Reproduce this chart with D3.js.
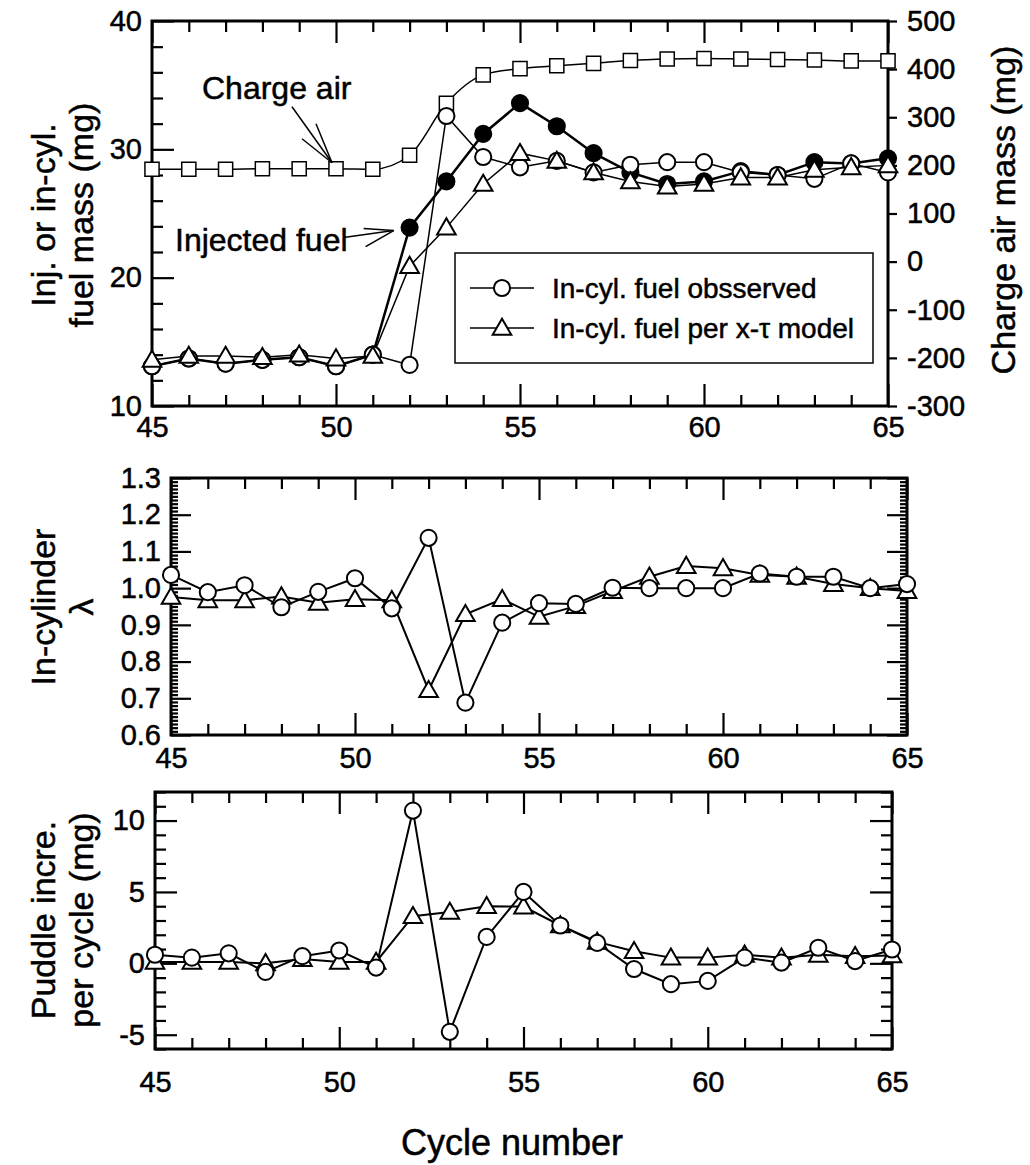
<!DOCTYPE html>
<html>
<head>
<meta charset="utf-8">
<script src="https://cdn.jsdelivr.net/npm/d3@7"></script>
<style>
  body { margin: 0; background: #fff; }
  text { font-family: "Liberation Sans", Arial, sans-serif; fill: #000; stroke: #000; stroke-width: 0.5px; }
</style>
</head>
<body>
<svg id="chart" width="1030" height="1165"></svg>
<script>
// cycle numbers shared by all three panels
const cycles = [45, 46, 47, 48, 49, 50, 51, 52, 53, 54, 55, 56, 57, 58, 59, 60, 61, 62, 63, 64, 65];

// top panel: fuel masses (mg, left axis) and charge air (mg, right axis)
const injectedFuel = [13.1, 13.7, 13.3, 13.6, 13.8, 13.1, 14.0, 23.9, 27.5, 31.2, 33.6, 31.8, 29.7, 28.2, 27.3, 27.5, 28.3, 28.0, 29.0, 28.9, 29.3];
const fuelObserved = [13.1, 13.7, 13.3, 13.6, 13.8, 13.1, 14.0, 13.2, 32.6, 29.4, 28.6, 29.1, 28.2, 28.8, 29.0, 29.0, 28.2, 28.0, 27.7, 28.9, 28.2];
const fuelModel = [13.6, 13.9, 13.9, 13.8, 14.0, 13.7, 13.9, 20.9, 23.9, 27.3, 29.7, 29.1, 28.2, 27.5, 27.1, 27.3, 27.8, 27.8, 28.4, 28.6, 28.75];
const chargeAir = [192, 192, 192, 193, 193, 193, 192, 221, 329, 388, 401, 407, 412, 418, 421, 422, 421, 420, 419, 417, 417];

// middle panel: in-cylinder lambda
const lambdaObserved = [1.036, 0.989, 1.008, 0.948, 0.99, 1.027, 0.945, 1.137, 0.688, 0.906, 0.959, 0.957, 1.001, 1.0, 1.0, 1.0, 1.04, 1.031, 1.031, 1.0, 1.011];
const lambdaModel = [0.976, 0.967, 0.967, 0.977, 0.96, 0.97, 0.967, 0.722, 0.929, 0.97, 0.922, 0.951, 0.992, 1.031, 1.06, 1.054, 1.036, 1.031, 1.011, 1.0, 0.992];

// bottom panel: puddle increment per cycle (mg)
const puddleObserved = [0.6, 0.4, 0.7, -0.6, 0.5, 0.9, -0.3, 10.7, -4.8, 1.85, 5.0, 2.65, 1.43, -0.4, -1.46, -1.23, 0.4, 0.05, 1.09, 0.16, 0.97];
const puddleModel = [0.1, 0.1, 0.1, 0.0, 0.3, 0.1, 0.1, 3.3, 3.6, 4.0, 3.98, 2.65, 1.5, 0.85, 0.4, 0.4, 0.6, 0.4, 0.6, 0.5, 0.55];

// tick labels
const xTicks = [45, 50, 55, 60, 65];
const fuelTicks = [10, 20, 30, 40];
const airTicks = [-300, -200, -100, 0, 100, 200, 300, 400, 500];
const lambdaTicks = [0.6, 0.7, 0.8, 0.9, 1.0, 1.1, 1.2, 1.3];
const puddleTicks = [-5, 0, 5, 10];

const legendLabels = ["In-cyl. fuel obsserved", "In-cyl. fuel per x-\u03c4 model"];

const svg = d3.select("#chart");
const FONT = "Liberation Sans, Arial, sans-serif";
// plain hyphen for negatives, like the original figure
const intFmt = d => String(d);
const oneDec = d => d.toFixed(1);

function zip(ys) { return cycles.map((c, i) => ({x: c, y: ys[i]})); }

function makePanel(box, yDomain) {
    const x = d3.scaleLinear().domain([45, 65]).range([box.left, box.right]);
    const y = d3.scaleLinear().domain(yDomain).range([box.bottom, box.top]);
    return {box, x, y, g: svg.append("g")};
}

function styleAxis(sel, size) {
    sel.select(".domain").remove();
    sel.selectAll(".tick line").attr("stroke", "#000").attr("stroke-width", 2.2);
    sel.selectAll("text").style("font-family", FONT).style("font-size", size + "px").attr("fill", "#000");
}

function xAxes(p, labelPad) {
    const minor = cycles.filter(c => xTicks.indexOf(c) < 0);
    const b = p.box;
    p.g.append("g").attr("transform", `translate(0,${b.bottom})`)
        .call(d3.axisBottom(p.x).tickValues(xTicks).tickSize(-22).tickPadding(labelPad).tickFormat(intFmt))
        .call(s => styleAxis(s, 29));
    p.g.append("g").attr("transform", `translate(0,${b.bottom})`)
        .call(d3.axisBottom(p.x).tickValues(minor).tickSize(-11).tickFormat(""))
        .call(s => styleAxis(s, 29));
    p.g.append("g").attr("transform", `translate(0,${b.top})`)
        .call(d3.axisTop(p.x).tickValues(xTicks).tickSize(-22).tickFormat(""))
        .call(s => styleAxis(s, 29));
    p.g.append("g").attr("transform", `translate(0,${b.top})`)
        .call(d3.axisTop(p.x).tickValues(minor).tickSize(-11).tickFormat(""))
        .call(s => styleAxis(s, 29));
}

function yAxes(p, majors, minors, fmt, majLen, minLen, bothSides) {
    const b = p.box;
    p.g.append("g").attr("transform", `translate(${b.left},0)`)
        .call(d3.axisLeft(p.y).tickValues(majors).tickSize(-majLen).tickPadding(10).tickFormat(fmt))
        .call(s => styleAxis(s, 29));
    p.g.append("g").attr("transform", `translate(${b.left},0)`)
        .call(d3.axisLeft(p.y).tickValues(minors).tickSize(-minLen).tickFormat(""))
        .call(s => styleAxis(s, 29));
    if (bothSides) {
        p.g.append("g").attr("transform", `translate(${b.right},0)`)
            .call(d3.axisRight(p.y).tickValues(majors).tickSize(-majLen).tickFormat(""))
            .call(s => styleAxis(s, 29));
        p.g.append("g").attr("transform", `translate(${b.right},0)`)
            .call(d3.axisRight(p.y).tickValues(minors).tickSize(-minLen).tickFormat(""))
            .call(s => styleAxis(s, 29));
    }
}

function frame(p) {
    const b = p.box;
    p.g.append("rect").attr("x", b.left).attr("y", b.top)
        .attr("width", b.right - b.left).attr("height", b.bottom - b.top)
        .attr("fill", "none").attr("stroke", "#000").attr("stroke-width", 3);
}

function drawLine(p, yScale, data, width, curve) {
    const line = d3.line().x(d => p.x(d.x)).y(d => yScale(d.y)).curve(curve || d3.curveLinear);
    p.g.append("path").datum(data).attr("d", line)
        .attr("fill", "none").attr("stroke", "#000").attr("stroke-width", width);
}

function drawMarkers(p, yScale, data, kind, fill) {
    const shape = {circle: d3.symbolCircle, square: d3.symbolSquare, triangle: d3.symbolTriangle}[kind];
    const size = {circle: 205, square: 200, triangle: 150}[kind];
    p.g.append("g").selectAll("path").data(data).join("path")
        .attr("d", d3.symbol().type(shape).size(size))
        .attr("transform", d => `translate(${p.x(d.x)},${yScale(d.y) + (kind === "triangle" ? 1.5 : 0)})`)
        .attr("fill", fill).attr("stroke", "#000").attr("stroke-width", kind === "square" ? 1.5 : 2);
}

function rotatedText(x, y, str, size) {
    svg.append("text").attr("transform", `translate(${x},${y}) rotate(-90)`)
        .attr("text-anchor", "middle").style("font-size", size + "px").text(str);
}

function arrow(tip, tail, barbA, barbB) {
    const g = svg.append("g").attr("stroke", "#000").attr("stroke-width", 1.5).attr("fill", "none");
    [tail, barbA, barbB].forEach(pt => {
        g.append("line").attr("x1", pt[0]).attr("y1", pt[1]).attr("x2", tip[0]).attr("y2", tip[1]);
    });
}

// ---------- top panel ----------
const topP = makePanel({left: 152, right: 888, top: 21, bottom: 406}, [10, 40]);
const yAir = d3.scaleLinear().domain([-300, 500]).range([406, 21]);
xAxes(topP, 10);
yAxes(topP, fuelTicks, d3.range(12, 40, 2).filter(v => v % 10 !== 0), intFmt, 22, 11, false);
topP.g.append("g").attr("transform", `translate(${topP.box.right},0)`)
    .call(d3.axisRight(yAir).tickValues(airTicks).tickSize(9).tickPadding(10).tickFormat(intFmt))
    .call(s => styleAxis(s, 29));
frame(topP);

drawLine(topP, yAir, zip(chargeAir), 1.5, d3.curveMonotoneX);
drawMarkers(topP, yAir, zip(chargeAir), "square", "#fff");
drawLine(topP, topP.y, zip(fuelModel), 1.5);
drawLine(topP, topP.y, zip(fuelObserved), 1.5);
drawLine(topP, topP.y, zip(injectedFuel), 2.5);
drawMarkers(topP, topP.y, zip(injectedFuel), "circle", "#000");
drawMarkers(topP, topP.y, zip(fuelObserved), "circle", "#fff");
drawMarkers(topP, topP.y, zip(fuelModel), "triangle", "#fff");

// legend
const lg = topP.g.append("g");
lg.append("rect").attr("x", 455).attr("y", 253).attr("width", 418).attr("height", 110)
    .attr("fill", "#fff").attr("stroke", "#000").attr("stroke-width", 1.5);
legendLabels.forEach((lab, i) => {
    const cy = 288 + i * 40;
    lg.append("line").attr("x1", 470).attr("x2", 534).attr("y1", cy).attr("y2", cy)
        .attr("stroke", "#000").attr("stroke-width", 1.5);
    lg.append("path").attr("d", d3.symbol().type(i === 0 ? d3.symbolCircle : d3.symbolTriangle).size(i === 0 ? 205 : 150))
        .attr("transform", `translate(502,${cy + (i === 0 ? 0 : 1.5)})`)
        .attr("fill", "#fff").attr("stroke", "#000").attr("stroke-width", 2);
    lg.append("text").attr("x", 552).attr("y", cy + 10).style("font-size", "28px").text(lab);
});

// annotations
svg.append("text").attr("x", 202).attr("y", 99).style("font-size", "32px").text("Charge air");
{
    const tx = topP.x(50) - 4, ty = yAir(chargeAir[5]) - 6;
    arrow([tx, ty], [tx - 40, ty - 56], [tx - 30, ty - 24], [tx - 16, ty - 39]);
}
svg.append("text").attr("x", 175).attr("y", 251).style("font-size", "32px").text("Injected fuel");
{
    const tx = topP.x(52) - 16, ty = topP.y(injectedFuel[7]) + 3;
    arrow([tx, ty], [tx - 50, ty + 7], [tx - 30, ty - 2], [tx - 28, ty + 16]);
}

// axis titles top
rotatedText(55, 215, "Inj. or in-cyl.", 34);
rotatedText(93, 215, "fuel mass (mg)", 34);
rotatedText(1015, 210, "Charge air mass (mg)", 34);

// ---------- middle panel ----------
const midP = makePanel({left: 171, right: 907, top: 478, bottom: 735}, [0.6, 1.3]);
xAxes(midP, 12);
yAxes(midP, lambdaTicks, d3.range(61, 130).filter(v => v % 10 !== 0).map(v => v / 100), oneDec, 20, 7, true);
frame(midP);
drawLine(midP, midP.y, zip(lambdaModel), 2);
drawLine(midP, midP.y, zip(lambdaObserved), 2);
drawMarkers(midP, midP.y, zip(lambdaModel), "triangle", "#fff");
drawMarkers(midP, midP.y, zip(lambdaObserved), "circle", "#fff");
rotatedText(55, 607, "In-cylinder", 34);
rotatedText(93, 607, "\u03bb", 34);

// ---------- bottom panel ----------
const botP = makePanel({left: 155, right: 892, top: 792, bottom: 1049}, [-6, 12]);
xAxes(botP, 22);
yAxes(botP, puddleTicks, d3.range(-6, 13).filter(v => v % 5 !== 0), intFmt, 22, 11, true);
frame(botP);
drawLine(botP, botP.y, zip(puddleModel), 2);
drawLine(botP, botP.y, zip(puddleObserved), 2);
drawMarkers(botP, botP.y, zip(puddleModel), "triangle", "#fff");
drawMarkers(botP, botP.y, zip(puddleObserved), "circle", "#fff");
rotatedText(55, 920, "Puddle incre.", 34);
rotatedText(93, 920, "per cycle (mg)", 34);

svg.append("text").attr("x", 512).attr("y", 1155).attr("text-anchor", "middle")
    .style("font-size", "36px").text("Cycle number");
</script>
</body>
</html>
